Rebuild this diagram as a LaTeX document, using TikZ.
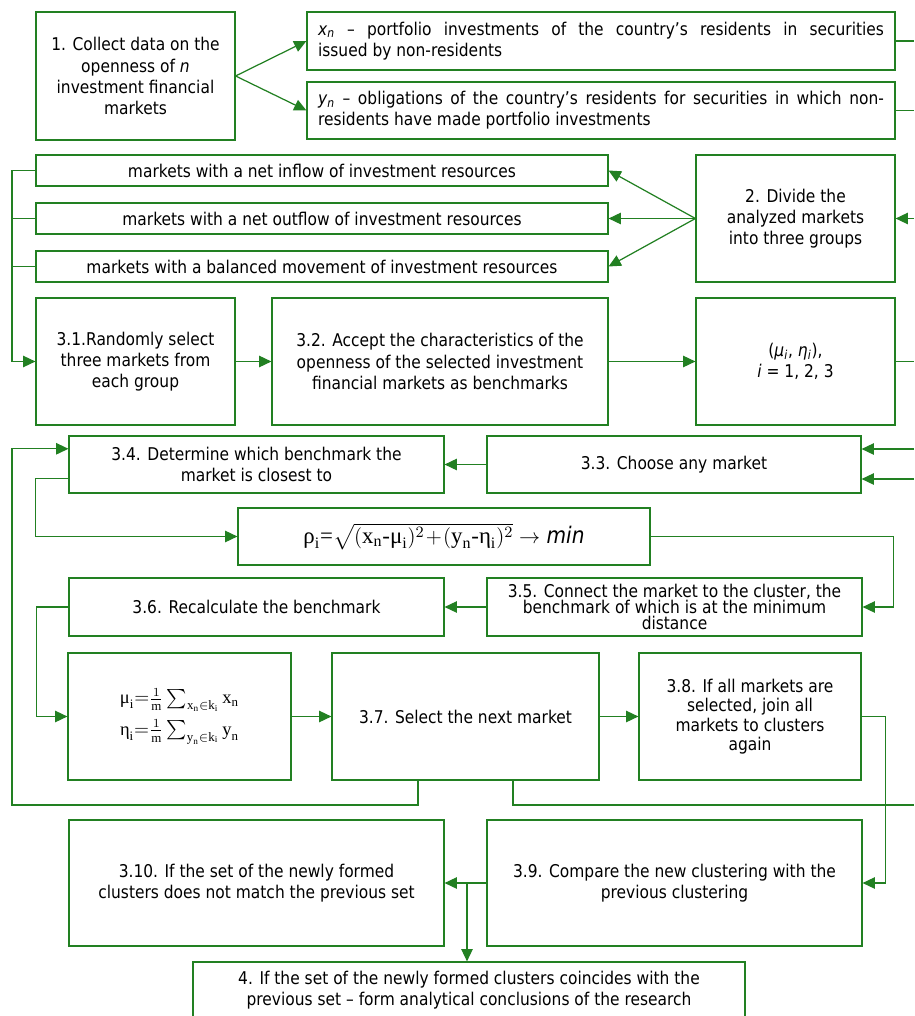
\documentclass[tikz,border=0pt]{standalone}
\usepackage{amsmath}
\usepackage{fontspec}
\setmainfont{DejaVu Sans}[FakeStretch=0.88]
\newfontfamily\formfont{Liberation Serif}
\usetikzlibrary{arrows.meta,calc}
\definecolor{frame}{RGB}{34,128,34}
\newcommand{\fr}[1]{\text{\formfont #1}}
\tikzset{
  box/.style={draw=frame, line width=0.7pt, align=center, inner sep=2pt},
  ln/.style={draw=frame, line width=0.7pt},
  arr/.style={draw=frame, line width=0.7pt, -{Triangle[length=7pt,width=6.5pt]}}
}

\begin{document}
\begin{tikzpicture}[x=0.02cm, y=-0.02cm, font=\fontsize{10}{12}\selectfont]
\useasboundingbox (0,0) rectangle (914,1016);

\node[box, minimum width=3.98cm, minimum height=2.56cm] (collect) at (135.5,76) {1. Collect data on the\\openness of \textit{n}\\investment financial\\markets};
\node[box, minimum width=11.76cm, minimum height=1.16cm, text width=11.32cm, align=justify] (resx) at (601,41) {\textit{x}\textsubscript{\textit{n}} -- portfolio investments of the country’s residents in securities\linebreak issued by non-residents};
\node[box, minimum width=11.76cm, minimum height=1.14cm, text width=11.32cm, align=justify] (resy) at (601,110.5) {\textit{y}\textsubscript{\textit{n}} -- obligations of the country’s residents for securities in which non-\linebreak residents have made portfolio investments};

\node[box, minimum width=11.44cm, minimum height=0.62cm] (inflow) at (322,170.5) {markets with a net inflow of investment resources};
\node[box, minimum width=11.44cm, minimum height=0.62cm] (outflow) at (322,218.5) {markets with a net outflow of investment resources};
\node[box, minimum width=11.44cm, minimum height=0.62cm] (balanced) at (322,266.5) {markets with a balanced movement of investment resources};
\node[box, minimum width=3.98cm, minimum height=2.54cm] (divide) at (795.5,218.5) {2. Divide the\\analyzed markets\\into three groups};

\node[box, minimum width=3.98cm, minimum height=2.54cm] (select) at (135.5,361.5) {3.1.Randomly select\\three markets from\\each group};
\node[box, minimum width=6.72cm, minimum height=2.54cm] (accept) at (440,361.5) {3.2. Accept the characteristics of the\\openness of the selected investment\\financial markets as benchmarks};
\node[box, minimum width=3.98cm, minimum height=2.54cm] (pair) at (795.5,361.5) {(\textit{μ}\textsubscript{\textit{i}}, \textit{η}\textsubscript{\textit{i}}),\\\textit{i} = 1, 2, 3};

\node[box, minimum width=7.5cm, minimum height=1.14cm] (closest) at (256.5,464.5) {3.4. Determine which benchmark the\\market is closest to};
\node[box, minimum width=7.48cm, minimum height=1.14cm] (choose) at (674,464.5) {3.3. Choose any market};
\node[box, minimum width=8.24cm, minimum height=1.14cm, font=\fontsize{13}{15}\selectfont] (dist) at (444,536.5) {$\fr{ρ}_{\fr{i}}\fr{=}\sqrt{(\fr{x}_{\fr{n}}\fr{-}\fr{μ}_{\fr{i}})^{2}\!+\!(\fr{y}_{\fr{n}}\fr{-}\fr{η}_{\fr{i}})^{2}}\rightarrow$ \textit{min}};
\node[box, minimum width=7.5cm, minimum height=1.16cm] (recalc) at (256.5,607) {3.6. Recalculate the benchmark};
\node[box, minimum width=7.5cm, minimum height=1.16cm, font=\fontsize{10}{9.2}\selectfont] (attach) at (674.5,607) {3.5. Connect the market to the cluster, the\\benchmark of which is at the minimum\\distance};

\node[box, minimum width=4.46cm, minimum height=2.54cm, font=\fontsize{10.5}{18}\selectfont] (mean) at (179.5,716.5) {$\fr{μ}_{\fr{i}}{=}\frac{1}{\fr{m}}\sum_{\fr{x}_{\fr{n}}\in\fr{k}_{\fr{i}}}\fr{x}_{\fr{n}}$\\$\fr{η}_{\fr{i}}{=}\frac{1}{\fr{m}}\sum_{\fr{y}_{\fr{n}}\in\fr{k}_{\fr{i}}}\fr{y}_{\fr{n}}$};
\node[box, minimum width=5.34cm, minimum height=2.54cm] (next) at (465.5,716.5) {3.7. Select the next market};
\node[box, minimum width=4.44cm, minimum height=2.54cm, font=\fontsize{10}{11}\selectfont] (alljoin) at (750,716.5) {3.8. If all markets are\\selected, join all\\markets to clusters\\again};

\node[box, minimum width=7.5cm, minimum height=2.52cm] (notmatch) at (256.5,883) {3.10. If the set of the newly formed\\clusters does not match the previous set};
\node[box, minimum width=7.5cm, minimum height=2.52cm] (compare) at (674.5,883) {3.9. Compare the new clustering with the\\previous clustering};
\node[box, minimum width=11.04cm, minimum height=1.12cm] (final) at (469,990) {4. If the set of the newly formed clusters coincides with the\\previous set -- form analytical conclusions of the research};

\coordinate (outX) at (914,41);
\coordinate (outY) at (914,110.5);
\coordinate (inD) at (914,218.5);
\coordinate (bus) at (12,0);
\coordinate (outM) at (914,361.5);
\coordinate (inA) at (914,449);
\coordinate (inB) at (914,479);
\coordinate (loopL) at (418,805);
\coordinate (edgeL) at (12,805);
\coordinate (loopR) at (513,805);
\coordinate (outN) at (914,805);
\coordinate (split) at (467,883);

\draw[arr] (collect.east) -- (resx.west);
\draw[arr] (collect.east) -- (resy.west);
\draw[ln] (resx.east) -- (outX);
\draw[ln] (resy.east) -- (outY);
\draw[arr] (inD) -- (divide.east);
\draw[arr] (divide.west) -- (inflow.east);
\draw[arr] (divide.west) -- (outflow.east);
\draw[arr] (divide.west) -- (balanced.east);
\draw[arr] (inflow.west) -- (inflow.west -| bus) |- (select.west);
\draw[ln] (outflow.west) -- (outflow.west -| bus);
\draw[ln] (balanced.west) -- (balanced.west -| bus);
\draw[arr] (select.east) -- (accept.west);
\draw[arr] (accept.east) -- (pair.west);
\draw[ln] (pair.east) -- (outM);
\draw[arr] (inA) -- (inA -| choose.east);
\draw[arr] (inB) -- (inB -| choose.east);
\draw[arr] (choose.west) -- (closest.east);
\draw[arr] ($(closest.north west)!0.74!(closest.south west)$) -- ++(-33,0) |- (dist.west);
\draw[arr] (dist.east) -- ++(243,0) |- (attach.east);
\draw[arr] (attach.west) -- (recalc.east);
\draw[arr] (recalc.west) -- ++(-32,0) |- (mean.west);
\draw[arr] (mean.east) -- (next.west);
\draw[arr] (next.east) -- (alljoin.west);
\draw[arr] (next.south -| loopL) -- (loopL) -- (edgeL) |- ($(closest.north west)!0.23!(closest.south west)$);
\draw[ln] (next.south -| loopR) -- (loopR) -- (outN);
\draw[arr] (alljoin.east) -- ++(24,0) |- (compare.east);
\draw[arr] (compare.west) -- (notmatch.east);
\draw[arr] (split) -- (split |- final.north);
\end{tikzpicture}
\end{document}
